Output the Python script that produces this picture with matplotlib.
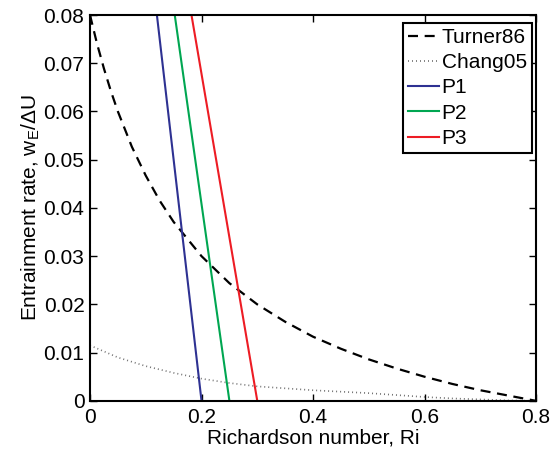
import matplotlib
matplotlib.use("Agg")
import matplotlib.pyplot as plt

ri_turner = [0.0, 0.0125, 0.025, 0.0375, 0.05, 0.075, 0.1, 0.125, 0.15, 0.2, 0.25, 0.3, 0.35, 0.4,
             0.45, 0.5, 0.55, 0.6, 0.65, 0.7, 0.75, 0.8]
e_turner = [0.0800, 0.0741, 0.0689, 0.0642, 0.0600, 0.0527, 0.0467, 0.0415, 0.0371, 0.0300, 0.0244,
            0.0200, 0.0164, 0.0133, 0.0108, 0.0086, 0.0067, 0.0050, 0.0035, 0.0022, 0.0011, 0.0000]

ri_chang = [0.0, 0.05, 0.1, 0.15, 0.2, 0.25, 0.3, 0.35, 0.4, 0.45, 0.5, 0.55, 0.6, 0.65, 0.7, 0.75, 0.8]
e_chang = [0.0115, 0.0090, 0.0072, 0.0058, 0.0046, 0.0037, 0.0030, 0.0026, 0.0022, 0.0019, 0.0016,
           0.0012, 0.0008, 0.0005, 0.0003, 0.0001, 0.0000]

ri_p1 = [0.120, 0.200]
e_p1 = [0.08, 0.0]
ri_p2 = [0.152, 0.250]
e_p2 = [0.08, 0.0]
ri_p3 = [0.182, 0.300]
e_p3 = [0.08, 0.0]

xticks = [0, 0.2, 0.4, 0.6, 0.8]
yticks = [0, 0.01, 0.02, 0.03, 0.04, 0.05, 0.06, 0.07, 0.08]

FS = 15
plt.rcParams['font.family'] = ['Liberation Sans', 'DejaVu Sans']
plt.rcParams['mathtext.fontset'] = 'custom'
plt.rcParams['mathtext.rm'] = 'Liberation Sans'
plt.rcParams['mathtext.it'] = 'Liberation Sans'
plt.rcParams['font.size'] = FS

fig = plt.figure(figsize=(5.59, 4.55), dpi=100)
ax = fig.add_axes([0.161, 0.119, 0.798, 0.848])

ax.plot(ri_turner, e_turner, color='black', ls=(0, (4.5, 3)), lw=1.6, label='Turner86')
ax.plot(ri_chang, e_chang, color='#707070', ls=(0, (0.6, 1.8)), lw=1.2, label='Chang05')
ax.plot(ri_p1, e_p1, color='#2e3192', lw=1.5, label='P1')
ax.plot(ri_p2, e_p2, color='#00a651', lw=1.5, label='P2')
ax.plot(ri_p3, e_p3, color='#ed1c24', lw=1.5, label='P3')

ax.set_xlim(0, 0.8)
ax.set_ylim(0, 0.08)
ax.set_xticks(xticks)
ax.set_xticklabels(['0', '0.2', '0.4', '0.6', '0.8'])
ax.set_yticks(yticks)
ax.set_yticklabels(['0', '0.01', '0.02', '0.03', '0.04', '0.05', '0.06', '0.07', '0.08'])
ax.tick_params(direction='in', top=True, right=True, length=5, width=1, labelsize=FS)
ax.tick_params(axis='x', pad=5.5)
ax.tick_params(axis='y', pad=4)
for s in ax.spines.values():
    s.set_linewidth(1.5)

ax.set_xlabel('Richardson number, Ri', fontsize=FS, labelpad=1)
ax.set_ylabel(r'Entrainment rate, w$_\mathregular{E}$/$\Delta$U', fontsize=FS, labelpad=1)

leg = ax.legend(loc='upper right', bbox_to_anchor=(0.991, 0.980), fancybox=False, framealpha=1,
                edgecolor='black', handlelength=1.45, handletextpad=0.15, borderpad=0.25,
                labelspacing=0.3, fontsize=FS, borderaxespad=0.0)
leg.get_frame().set_linewidth(1.5)

fig.savefig('out.png', dpi=100)
